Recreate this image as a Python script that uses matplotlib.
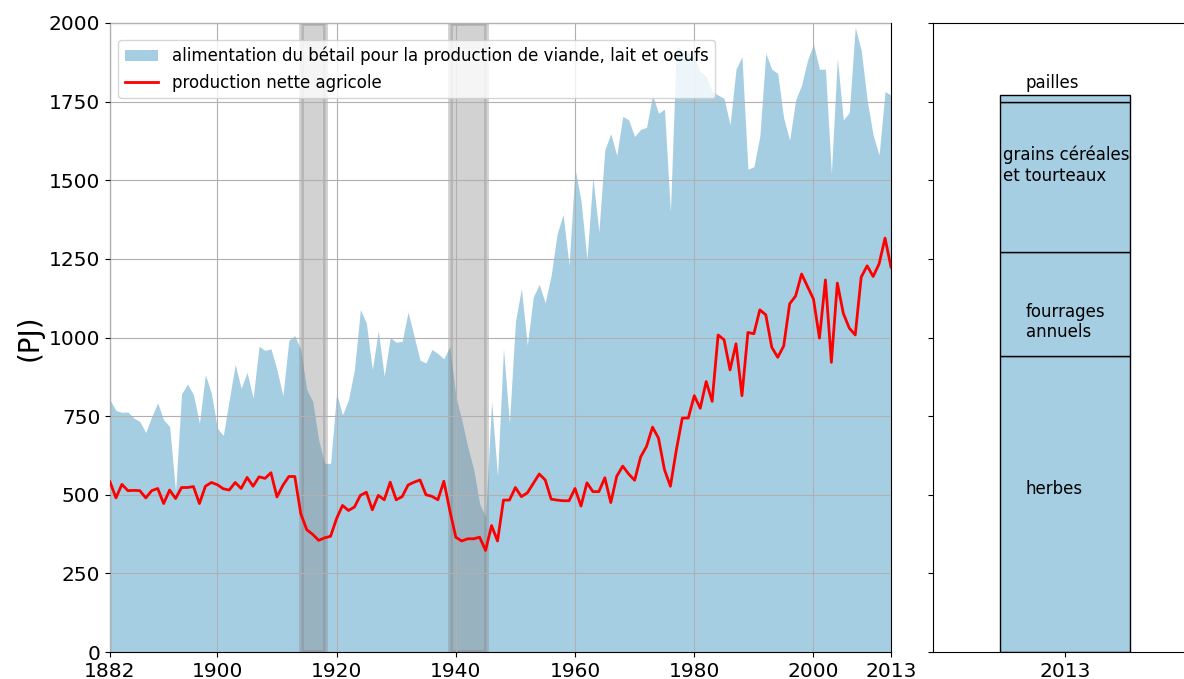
import numpy as np
import matplotlib
matplotlib.use("Agg")
import matplotlib.pyplot as plt

years = np.arange(1882, 2014)

# alimentation du bétail (PJ)
feed = [
    802, 768, 762, 763, 744, 733, 698, 749, 792, 738,
    717, 509, 821, 852, 818, 728, 882, 823, 712, 688,
    802, 914, 839, 889, 807, 972, 959, 964, 898, 815,
    991, 1006, 962, 834, 797, 674, 600, 600, 823, 754,
    802, 898, 1089, 1045, 898, 1021, 877, 1000, 985, 988,
    1081, 1004, 928, 919, 962, 949, 932, 972, 813, 738,
    653, 581, 472, 430, 797, 560, 965, 727, 1050, 1156,
    976, 1129, 1169, 1110, 1198, 1330, 1391, 1230, 1537, 1436,
    1248, 1511, 1336, 1597, 1648, 1579, 1703, 1692, 1639, 1662,
    1668, 1771, 1713, 1726, 1400, 1925, 1914, 1909, 1893, 1845,
    1830, 1782, 1771, 1760, 1676, 1853, 1893, 1535, 1543, 1640,
    1904, 1853, 1840, 1697, 1628, 1755, 1803, 1882, 1933, 1853,
    1853, 1522, 1888, 1692, 1715, 1986, 1914, 1755, 1644, 1580,
    1782, 1771,
]

# production nette agricole (PJ)
production = [
    541, 490, 533, 513, 514, 513, 490, 513, 520, 472,
    515, 488, 523, 523, 526, 472, 527, 539, 532, 519,
    515, 539, 520, 555, 527, 557, 552, 570, 493, 530,
    558, 558, 440, 389, 374, 355, 363, 368, 424, 466,
    450, 461, 498, 508, 452, 498, 484, 540, 484, 494,
    531, 540, 547, 500, 495, 484, 543, 450, 365, 353,
    360, 360, 365, 323, 402, 353, 483, 483, 523, 494,
    506, 536, 566, 547, 486, 483, 481, 481, 520, 464,
    538, 510, 510, 554, 475, 559, 591, 566, 546, 620,
    654, 715, 680, 580, 527, 643, 744, 744, 815, 775,
    860, 797, 1008, 993, 897, 980, 815, 1016, 1012, 1088,
    1072, 969, 937, 973, 1107, 1132, 1202, 1162, 1122, 998,
    1183, 921, 1173, 1077, 1030, 1008, 1192, 1228, 1194, 1234,
    1316, 1224,
]

wars = [(1914, 1918), (1939, 1945)]
xticks = [1882, 1900, 1920, 1940, 1960, 1980, 2000, 2013]

# répartition 2013 (PJ)
parts = ["herbes", "fourrages\nannuels", "grains céréales\net tourteaux", "pailles"]
part_values = [940, 332, 478, 20]

blue = "#a6cee3"

fig = plt.figure(figsize=(11.84, 6.79), dpi=100)
ax = fig.add_axes([110 / 1184, 27 / 679, 781 / 1184, 629 / 679])
ax2 = fig.add_axes([933 / 1184, 27 / 679, 251 / 1184, 629 / 679], sharey=ax)

ax.fill_between(years, feed, color=blue, linewidth=0,
                label="alimentation du bétail pour la production de viande, lait et oeufs")
for start, end in wars:
    ax.axvspan(start, end, facecolor="grey", edgecolor="grey",
               alpha=0.35, linewidth=3.5, zorder=2)
ax.plot(years, production, color="red", linewidth=2, zorder=3,
        label="production nette agricole")

ax.set_xlim(1882, 2013)
ax.set_ylim(0, 2000)
ax.set_xticks(xticks)
ax.set_yticks(np.arange(0, 2001, 250))
ax.tick_params(labelsize=14.5)
ax.grid(True, color="#b0b0b0", linewidth=0.8)
ax.set_axisbelow(False)
ax.set_ylabel("(PJ)", fontsize=20)
ax.legend(loc="upper left", bbox_to_anchor=(0, 0.986), fontsize=12)

# barre empilée 2013
bottom = 0
for name, val in zip(parts, part_values):
    ax2.bar(0, val, bottom=bottom, width=1, color=blue,
            edgecolor="black", linewidth=1)
    bottom += val

ax2.text(-0.30, 1809, "pailles", fontsize=12, va="center")
ax2.text(-0.48, 1548, "grains céréales\net tourteaux", fontsize=12, va="center")
ax2.text(-0.30, 1049, "fourrages\nannuels", fontsize=12, va="center")
ax2.text(-0.30, 518, "herbes", fontsize=12, va="center")

ax2.set_xlim(-1.015, 0.915)
ax2.set_xticks([0])
ax2.set_xticklabels(["2013"])
ax2.tick_params(labelsize=14.5)
ax2.tick_params(axis="y", labelleft=False)
ax2.spines["right"].set_visible(False)

fig.savefig("out.png", dpi=100)
